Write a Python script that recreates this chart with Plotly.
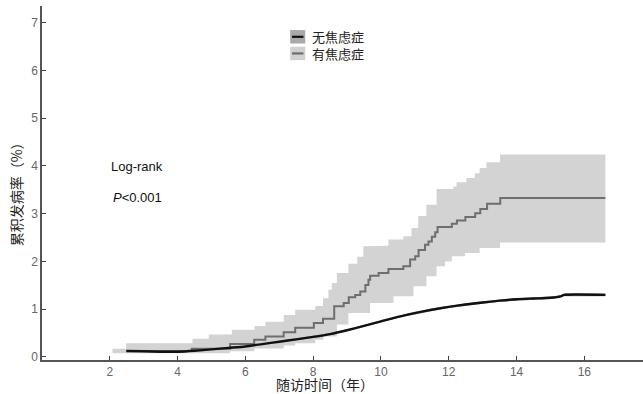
import plotly.graph_objects as go

# ---- data ----
# 有焦虑症: Kaplan-Meier style step curve (time in years, cumulative incidence %)
anx_t = [2.49, 4.42, 5.55, 6.26, 6.59, 7.13, 7.47, 8.02, 8.29, 8.62, 8.90, 9.05, 9.24, 9.39, 9.54,
         9.63, 9.68, 9.93, 10.22, 10.66, 10.86, 11.01, 11.11, 11.30, 11.40, 11.50, 11.60, 11.67,
         12.09, 12.24, 12.49, 12.78, 12.93, 13.13, 13.52]
anx_v = [0.125, 0.17, 0.27, 0.36, 0.43, 0.52, 0.61, 0.71, 0.80, 1.06, 1.13, 1.25, 1.30, 1.37, 1.51,
         1.62, 1.70, 1.76, 1.84, 1.90, 2.04, 2.11, 2.24, 2.35, 2.42, 2.52, 2.61, 2.72,
         2.79, 2.86, 2.93, 3.01, 3.10, 3.21, 3.33]
anx_end = 16.62

anx_hi_t = [2.08, 2.48, 4.44, 4.92, 5.60, 6.27, 6.59, 7.13, 7.47, 8.06, 8.29, 8.45, 8.55, 8.70,
            9.04, 9.30, 9.48, 9.68, 10.22, 10.66, 10.90, 11.10, 11.34, 11.64, 12.13, 12.23,
            12.52, 12.77, 12.91, 13.11, 13.51]
anx_hi_v = [0.17, 0.29, 0.38, 0.47, 0.57, 0.65, 0.74, 0.88, 0.99, 1.07, 1.23, 1.41, 1.55, 1.76,
            1.95, 2.10, 2.32, 2.33, 2.46, 2.53, 2.70, 2.95, 3.19, 3.52, 3.57, 3.66,
            3.75, 3.85, 3.96, 4.08, 4.24]

anx_lo_t = [2.08, 5.55, 6.26, 7.13, 7.47, 8.06, 8.30, 8.70, 9.04, 9.68, 10.37, 10.96, 11.34,
            11.64, 11.89, 12.09, 12.48, 12.91, 13.51]
anx_lo_v = [0.08, 0.12, 0.18, 0.24, 0.29, 0.36, 0.43, 0.68, 0.92, 1.13, 1.27, 1.48, 1.69,
            1.90, 2.00, 2.11, 2.18, 2.28, 2.40]

# 无焦虑症: smooth curve (many events)
no_t = [2.49, 3.0, 3.5, 4.0, 4.5, 5.0, 5.5, 6.0, 6.5, 7.0, 7.5, 8.0, 8.5, 9.0, 9.5, 10.0,
        10.5, 11.0, 11.5, 12.0, 12.5, 13.0, 13.5, 14.0, 14.5, 15.0, 15.3, 15.4, 16.62]
no_v = [0.125, 0.12, 0.11, 0.11, 0.13, 0.16, 0.19, 0.22, 0.27, 0.32, 0.37, 0.42, 0.48, 0.56,
        0.65, 0.745, 0.84, 0.92, 0.99, 1.05, 1.10, 1.14, 1.18, 1.21, 1.225, 1.24, 1.27, 1.30, 1.30]
no_hi = [0.14, 0.135, 0.125, 0.125, 0.145, 0.175, 0.205, 0.235, 0.285, 0.335, 0.385, 0.44,
         0.50, 0.58, 0.67, 0.77, 0.865, 0.945, 1.015, 1.075, 1.125, 1.165, 1.205, 1.235, 1.25,
         1.265, 1.295, 1.33, 1.33]
no_lo = [0.11, 0.105, 0.095, 0.095, 0.115, 0.145, 0.175, 0.205, 0.255, 0.305, 0.355, 0.40,
         0.46, 0.54, 0.63, 0.72, 0.815, 0.895, 0.965, 1.025, 1.075, 1.115, 1.155, 1.185, 1.20,
         1.215, 1.245, 1.27, 1.27]

series_names = ["无焦虑症", "有焦虑症"]
x_ticks = [2, 4, 6, 8, 10, 12, 14, 16]
y_ticks = [0, 1, 2, 3, 4, 5, 6, 7]


def steps(t, v, end):
    xs, ys = [], []
    for i in range(len(t)):
        nxt = t[i + 1] if i + 1 < len(t) else end
        xs += [t[i], nxt]
        ys += [v[i], v[i]]
    return xs, ys


hx, hy = steps(anx_hi_t, anx_hi_v, anx_end)
lx, ly = steps(anx_lo_t, anx_lo_v, anx_end)
lx_r, ly_r = lx[::-1], ly[::-1]

fig = go.Figure()

# grey CI band for anxiety group
fig.add_trace(go.Scatter(x=hx + lx_r, y=hy + ly_r, fill="toself", fillcolor="#d3d3d3",
                         line=dict(width=0), mode="lines", hoverinfo="skip", showlegend=False))
# narrow CI band for no-anxiety group
fig.add_trace(go.Scatter(x=no_t + no_t[::-1], y=no_hi + no_lo[::-1], fill="toself",
                         fillcolor="#9a9a9a", line=dict(width=0), mode="lines",
                         hoverinfo="skip", showlegend=False))

ax, ay = steps(anx_t, anx_v, anx_end)
fig.add_trace(go.Scatter(x=ax, y=ay, mode="lines", line=dict(color="#6e6e6e", width=2),
                         name=series_names[1], showlegend=False))
fig.add_trace(go.Scatter(x=no_t, y=no_v, mode="lines", line=dict(color="#111111", width=2.4,
                         shape="spline", smoothing=0.6), name=series_names[0], showlegend=False))

cjk = "Noto Sans CJK SC"

# manual legend
legend_items = [(series_names[0], "#a9a9a9", "#111111"), (series_names[1], "#d0d0d0", "#6e6e6e")]
for i, (nm, fc, lc) in enumerate(legend_items):
    yc = 0.913 - i * 0.047
    fig.add_shape(type="rect", xref="paper", yref="paper", x0=0.413, x1=0.438,
                  y0=yc - 0.019, y1=yc + 0.019, fillcolor=fc, line=dict(width=0))
    fig.add_shape(type="line", xref="paper", yref="paper", x0=0.416, x1=0.435,
                  y0=yc, y1=yc, line=dict(color=lc, width=2.2))
    fig.add_annotation(x=0.446, y=yc, xref="paper", yref="paper", text=nm, showarrow=False,
                       xanchor="left", yanchor="middle",
                       font=dict(family=cjk, size=13, color="#222222"))

fig.add_annotation(x=0.112, y=0.548, xref="paper", yref="paper", text="Log-rank",
                   showarrow=False, xanchor="left", yanchor="middle",
                   font=dict(family="Liberation Sans, Arial", size=13, color="#111111"))
fig.add_annotation(x=0.115, y=0.460, xref="paper", yref="paper", text="<i>P</i><0.001",
                   showarrow=False, xanchor="left", yanchor="middle",
                   font=dict(family="Liberation Sans, Arial", size=13, color="#111111"))

# axis titles as annotations
fig.add_annotation(x=0.471, y=-0.068, xref="paper", yref="paper", text="随访时间（年）",
                   showarrow=False, xanchor="center", yanchor="middle",
                   font=dict(family=cjk, size=14, color="#222222"))
fig.add_annotation(x=-0.043, y=0.477, xref="paper", yref="paper", text="累积发病率（%）",
                   textangle=-90, showarrow=False, xanchor="center", yanchor="middle",
                   font=dict(family=cjk, size=14, color="#222222"))

axis_font = dict(family="Liberation Sans, Arial", size=12, color="#666666")
fig.update_xaxes(range=[0, 17.73], tickvals=x_ticks, ticks="inside", ticklen=4, tickwidth=1,
                 tickcolor="#444444", showline=True, linecolor="#555555", linewidth=1.5,
                 showgrid=False, zeroline=False, tickfont=axis_font)
fig.update_yaxes(range=[-0.063, 7.35], tickvals=y_ticks, ticks="inside", ticklen=4, tickwidth=1,
                 tickcolor="#444444", showline=True, linecolor="#555555", linewidth=1.5,
                 showgrid=False, zeroline=False, tickfont=axis_font)

fig.update_layout(width=643, height=394, margin=dict(l=42, r=0, t=6, b=34),
                  plot_bgcolor="white", paper_bgcolor="white", showlegend=False)

fig.write_html("out.html", config={"displayModeBar": False},
               post_script="document.body.style.margin='0';document.body.style.padding='0';")
